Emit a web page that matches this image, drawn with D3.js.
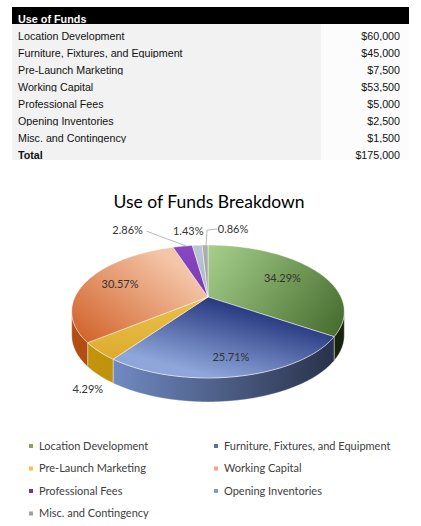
<!DOCTYPE html>
<html>
<head>
<meta charset="utf-8">
<script src="https://cdn.jsdelivr.net/npm/d3@7"></script>
<style>
  html, body { margin: 0; padding: 0; background: #fff; }
  svg { display: block; }
</style>
</head>
<body>
<svg id="chart" width="421" height="526"></svg>
<script>
// data
const tableTitle = "Use of Funds";
const chartTitle = "Use of Funds Breakdown";
const totalLabel = "Total";
const categories = [
    "Location Development",
    "Furniture, Fixtures, and Equipment",
    "Pre-Launch Marketing",
    "Working Capital",
    "Professional Fees",
    "Opening Inventories",
    "Misc. and Contingency"
];
const amounts = [60000, 45000, 7500, 53500, 5000, 2500, 1500];

// styles per slice: top face gradient, side gradient, legend swatch
const topColors = [
    ["#a9d18e", "#3f6627"], ["#26377f", "#8ea6da"], ["#f6d66e", "#dcab2c"],
    ["#f4c6a8", "#d2622a"], ["#8a48c4", "#6a2a9c"], ["#bcc6d6", "#9aa8bf"],
    ["#b0b0b0", "#8a8a8a"]
];
const sideColors = [
    ["#243a16", "#17240d"], ["#7089c1", "#283148"], ["#c4960f", "#a47b06"],
    ["#b34c10", "#cc6220"], ["#5a2486", "#5a2486"], ["#8895aa", "#8895aa"],
    ["#777", "#777"]
];
const swatchColors = ["#7fa95e", "#5d6f9f", "#f0c24e", "#f3a57c", "#7030a0", "#8a9ab5", "#a0a0a0"];

// label placement: radius factor on the top face, plus offset for outside labels
const labelLayout = [
    { r: 0.68, dx: 0, dy: 0 },
    { r: 0.8, dx: 0, dy: 0 },
    { r: 1, dx: -11, dy: 38 },
    { r: 0.72, dx: 0, dy: 0 },
    { r: 1, dx: -55, dy: -16, leader: "straight" },
    { r: 1, dx: -9, dy: -14 },
    { r: 1, dx: 28, dy: -16, leader: "elbow" }
];

const svg = d3.select("#chart");
const defs = svg.append("defs");
const total = d3.sum(amounts);
const money = d3.format("$,");
const pct = d3.format(".2%");

// ---------- table ----------
const tbl = { left: 12, right: 409, split: 321, top: 7, headH: 17, rowH: 17 };
const rows = categories.map((c, i) => ({ label: c, value: amounts[i], bold: false }))
    .concat([{ label: totalLabel, value: total, bold: true }]);
const rowY = d3.scaleBand()
    .domain(d3.range(rows.length))
    .range([tbl.top + tbl.headH, tbl.top + tbl.headH + tbl.rowH * rows.length]);

svg.append("rect")
    .attr("x", tbl.left).attr("y", tbl.top)
    .attr("width", tbl.right - tbl.left).attr("height", tbl.headH)
    .attr("fill", "#000");
svg.append("text")
    .attr("x", tbl.left + 6).attr("y", tbl.top + tbl.headH - 1.5)
    .attr("font-family", "Liberation Sans, Arial, sans-serif")
    .attr("font-size", 10.8).attr("font-weight", "bold")
    .attr("fill", "#fff")
    .text(tableTitle);

svg.append("rect")
    .attr("x", tbl.left).attr("y", rowY(0))
    .attr("width", tbl.split - tbl.left).attr("height", rowY.step() * rows.length)
    .attr("fill", "#f2f2f2");
svg.append("rect")
    .attr("x", tbl.split).attr("y", rowY(0))
    .attr("width", tbl.right - tbl.split).attr("height", rowY.step() * rows.length)
    .attr("fill", "#fcfcfc");

rows.forEach((d, i) => {
    defs.append("clipPath").attr("id", "row-clip-" + i)
        .append("rect")
        .attr("x", tbl.left).attr("y", rowY(i))
        .attr("width", tbl.right - tbl.left).attr("height", rowY.step());
});

const rowG = svg.selectAll("g.row")
    .data(rows)
    .enter()
    .append("g")
    .attr("class", "row")
    .attr("clip-path", (d, i) => `url(#row-clip-${i})`)
    .attr("font-family", "Liberation Sans, Arial, sans-serif")
    .attr("font-size", 10.7)
    .attr("fill", "#111");

rowG.append("text")
    .attr("x", tbl.left + 6)
    .attr("y", (d, i) => rowY(i) + 15.7)
    .attr("font-weight", d => d.bold ? "bold" : "normal")
    .text(d => d.label);

rowG.append("text")
    .attr("x", 400)
    .attr("y", (d, i) => rowY(i) + 15.7)
    .attr("text-anchor", "end")
    .text(d => money(d.value));

// ---------- pie ----------
svg.append("text")
    .attr("x", 209).attr("y", 208)
    .attr("text-anchor", "middle")
    .attr("font-family", "Lato, 'Open Sans', sans-serif")
    .attr("font-size", 17.5)
    .attr("fill", "#000")
    .text(chartTitle);

const cx = 208, cy = 297, R = 133, RY = 63.3, K = 0.218, DEPTH = 24;

// tilted disc with a little perspective: the front half is drawn larger
function proj(t, r, z = 0) {
    const u = r * Math.sin(t), v = -r * Math.cos(t), s = 1 / (1 - K * v);
    return [cx + R * u * s, cy + RY * v * s + z];
}
function arcPts(a0, a1, r, z) {
    const n = Math.max(2, Math.ceil((a1 - a0) / 0.02));
    return d3.range(n + 1).map(i => proj(a0 + (a1 - a0) * i / n, r, z));
}

const pie = d3.pie().sort(null).value(d => d);
const slices = pie(amounts);
const line = d3.line();

// outer wall is visible between the left and right silhouette points
const visStart = Math.acos(-K);
const visEnd = 2 * Math.PI - visStart;

slices.forEach((d, i) => {
    const gt = defs.append("linearGradient").attr("id", "top-" + i)
        .attr("gradientUnits", "userSpaceOnUse");
    if (i === 0) gt.attr("x1", 205).attr("y1", 245).attr("x2", 345).attr("y2", 345);
    else if (i === 1) gt.attr("x1", 215).attr("y1", 298).attr("x2", 195).attr("y2", 372);
    else if (i === 3) gt.attr("x1", 160).attr("y1", 250).attr("x2", 85).attr("y2", 345);
    else gt.attr("x1", 0).attr("y1", 240).attr("x2", 0).attr("y2", 360);
    gt.append("stop").attr("offset", "0%").attr("stop-color", topColors[i][0]);
    gt.append("stop").attr("offset", "100%").attr("stop-color", topColors[i][1]);

    const gs = defs.append("linearGradient").attr("id", "side-" + i)
        .attr("gradientUnits", "userSpaceOnUse")
        .attr("x1", 70).attr("y1", 0).attr("x2", 345).attr("y2", 0);
    gs.append("stop").attr("offset", "0%").attr("stop-color", sideColors[i][0]);
    gs.append("stop").attr("offset", "100%").attr("stop-color", sideColors[i][1]);
    if (i === 1) {
        gs.attr("x1", 115).attr("x2", 335);
    }
});

const sideData = slices
    .map((d, i) => ({ i, a0: Math.max(d.startAngle, visStart), a1: Math.min(d.endAngle, visEnd) }))
    .filter(d => d.a1 > d.a0);

svg.append("g").selectAll("path")
    .data(sideData)
    .enter()
    .append("path")
    .attr("d", d => line(arcPts(d.a0, d.a1, 1, 0).concat(arcPts(d.a0, d.a1, 1, DEPTH).reverse())) + "Z")
    .attr("fill", d => `url(#side-${d.i})`)
    .attr("stroke", "rgba(255,255,255,0.55)")
    .attr("stroke-width", 0.7);

svg.append("g").selectAll("path")
    .data(slices)
    .enter()
    .append("path")
    .attr("d", d => line([proj(0, 0)].concat(arcPts(d.startAngle, d.endAngle, 1, 0))) + "Z")
    .attr("fill", (d, i) => `url(#top-${i})`)
    .attr("stroke", "rgba(255,255,255,0.65)")
    .attr("stroke-width", 0.7)
    .attr("stroke-linejoin", "round");

// data labels
const labels = slices.map((d, i) => {
    const mid = (d.startAngle + d.endAngle) / 2;
    const L = labelLayout[i];
    const p = proj(mid, L.r);
    return { text: pct(d.value / total), x: p[0] + L.dx, y: p[1] + L.dy, anchor: proj(mid, 1), leader: L.leader };
});

const leaders = svg.append("g")
    .attr("fill", "none")
    .attr("stroke", "#a6a6a6")
    .attr("stroke-width", 0.8);
labels.forEach(l => {
    if (l.leader === "straight") {
        leaders.append("path").attr("d", line([[l.x + 19, l.y + 1], [l.anchor[0] + 4, l.anchor[1]]]));
    } else if (l.leader === "elbow") {
        leaders.append("path").attr("d", line([[l.x - 16, l.y], [l.anchor[0] + 2, l.y + 1], [l.anchor[0] + 1, l.anchor[1]]]));
    }
});

svg.append("g").selectAll("text")
    .data(labels)
    .enter()
    .append("text")
    .attr("x", d => d.x)
    .attr("y", d => d.y)
    .attr("dy", "0.35em")
    .attr("text-anchor", "middle")
    .attr("font-family", "Lato, 'Open Sans', sans-serif")
    .attr("font-size", 11)
    .attr("fill", "#333")
    .text(d => d.text);

// ---------- legend ----------
const legendCol = d3.scaleOrdinal().domain([0, 1]).range([29, 214]);
const legendRow = d3.scaleLinear().domain([0, 1]).range([446, 468.5]);

const leg = svg.append("g").selectAll("g")
    .data(categories)
    .enter()
    .append("g")
    .attr("transform", (d, i) => `translate(${legendCol(i % 2)},${legendRow(Math.floor(i / 2))})`);

leg.append("rect")
    .attr("x", 0).attr("y", -2)
    .attr("width", 4).attr("height", 4)
    .attr("fill", (d, i) => swatchColors[i]);

leg.append("text")
    .attr("x", 10)
    .attr("dy", "0.35em")
    .attr("font-family", "Lato, 'Open Sans', sans-serif")
    .attr("font-size", 11)
    .attr("fill", "#404040")
    .text(d => d);
</script>
</body>
</html>
